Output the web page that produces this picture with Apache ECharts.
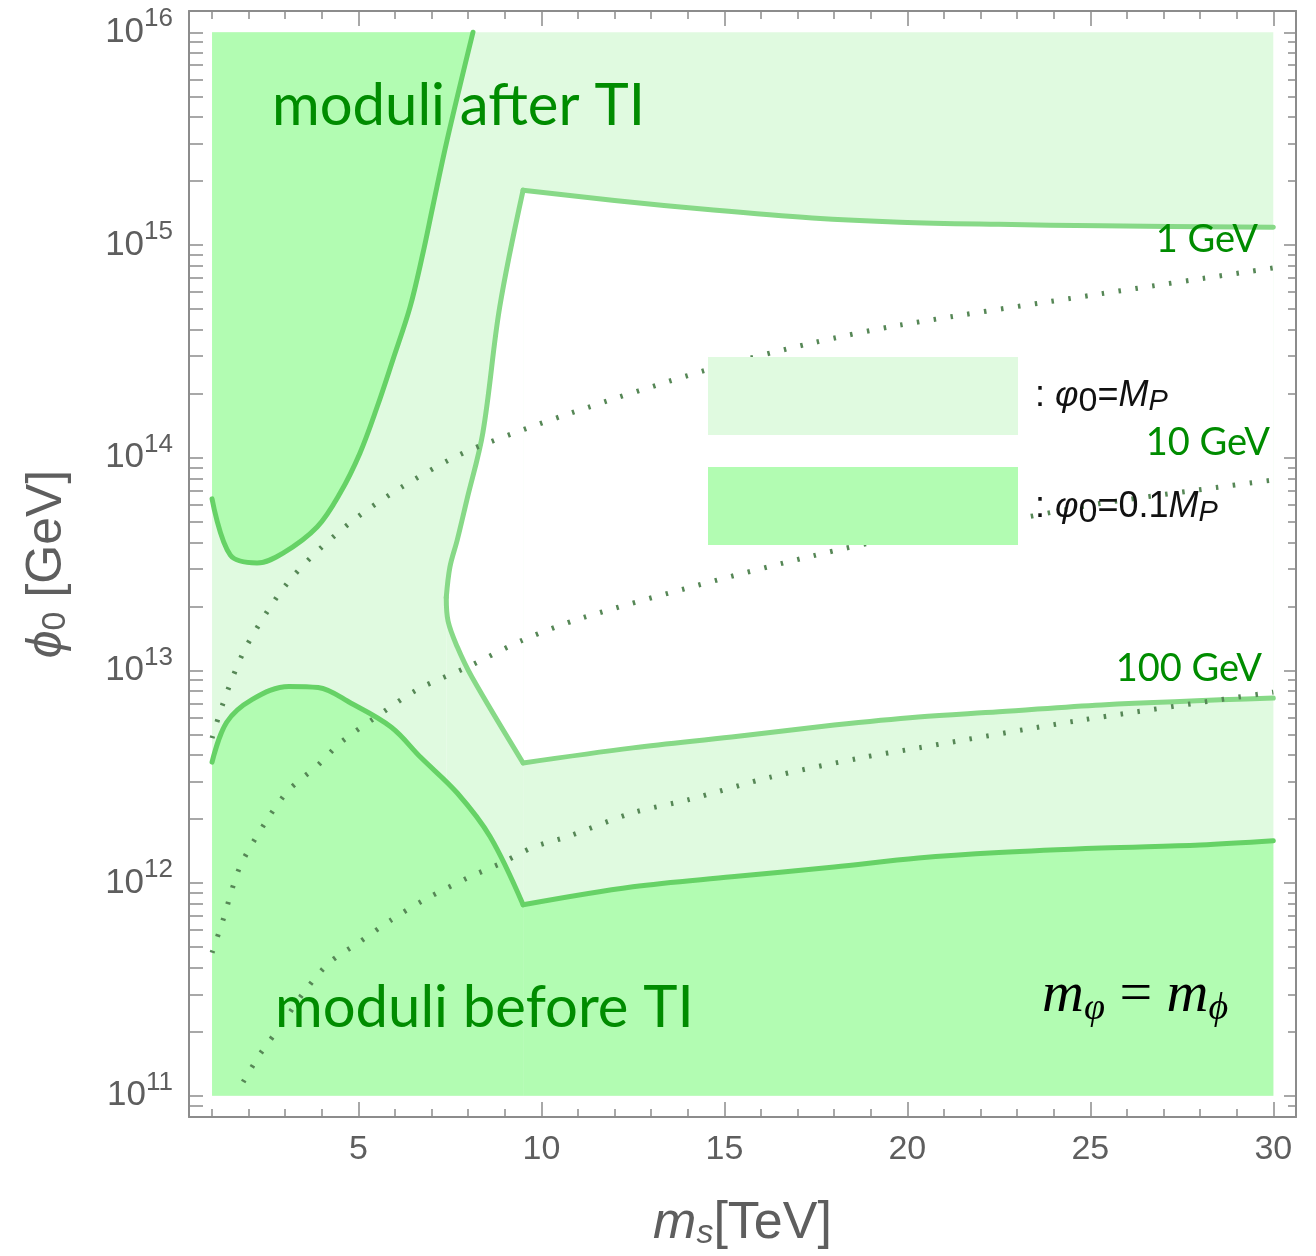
<!DOCTYPE html>
<html>
<head>
<meta charset="utf-8">
<title>moduli vs TI</title>
<script src="https://cdn.jsdelivr.net/npm/echarts@6/dist/echarts.min.js"></script>
<style>
  html, body { margin: 0; padding: 0; background: #fff; }
  #chart { width: 1316px; height: 1256px; }
</style>
</head>
<body>
<div id="chart"></div>
<script>
// axis extents (x in TeV, y as log10 of phi0 in GeV)
const xRange = [0.37, 30.62]
const logRange = [10.9, 16.1]
const xMajor = [5, 10, 15, 20, 25, 30]
const xMinor = [1, 2, 3, 4, 6, 7, 8, 9, 11, 12, 13, 14, 16, 17, 18, 19, 21, 22, 23, 24, 26, 27, 28, 29]
const yMajor = [11, 12, 13, 14, 15, 16]

// plotted box of the scan
const boxX = [1, 30]
const boxPhi = [1e11, 1e16]

// phi0 = 0.1 M_P : moduli after TI (upper left)
const afterX = [1.0, 1.5, 2.23, 2.94, 3.87, 4.5, 5.04, 5.51, 5.94, 6.41, 6.76, 7.03, 7.42, 8.13]
const afterPhi = [6.4e13, 3.48e13, 3.2e13, 3.56e13, 4.72e13, 6.82e13, 1.05e14, 1.73e14, 2.88e14, 5.1e14, 9.1e14, 1.51e15, 3.1e15, 1e16]

// phi0 = 0.1 M_P : moduli before TI (bottom), split at the kink
const beforeLeftX = [1.0, 1.4, 2.1, 3.1, 3.9, 4.8, 5.9, 6.7, 7.7, 8.6, 9.5]
const beforeLeftPhi = [3.7e12, 5.7e12, 7.3e12, 8.4e12, 8.3e12, 7.0e12, 5.4e12, 3.9e12, 2.65e12, 1.65e12, 7.9e11]
const beforeRightX = [9.5, 12.5, 15.2, 18.0, 20.3, 22.5, 25.3, 28.0, 30.0]
const beforeRightPhi = [7.9e11, 9.6e11, 1.07e12, 1.19e12, 1.31e12, 1.39e12, 1.46e12, 1.51e12, 1.58e12]

// phi0 = M_P : edge of the white window, in four pieces
const mpTopX = [9.5, 12.0, 14.7, 17.4, 19.8, 22.5, 25.3, 30]
const mpTopPhi = [1.81e15, 1.62e15, 1.46e15, 1.34e15, 1.28e15, 1.25e15, 1.23e15, 1.21e15]
const mpEdgeUpX = [7.4, 7.5, 7.7, 7.96, 8.4, 8.86, 9.5]
const mpEdgeUpPhi = [2.2e13, 3.06e13, 4.1e13, 6.3e13, 1.31e14, 5.1e14, 1.81e15]
const mpEdgeLowX = [7.4, 7.45, 7.7, 8.1, 9.5]
const mpEdgeLowPhi = [2.2e13, 1.7e13, 1.29e13, 9.3e12, 3.67e12]
const mpBotX = [9.5, 12.5, 15.2, 18.0, 20.3, 22.5, 25.3, 30]
const mpBotPhi = [3.67e12, 4.32e12, 4.86e12, 5.53e12, 6.04e12, 6.38e12, 6.88e12, 7.41e12]

// dotted contours: 1 GeV, 10 GeV, 100 GeV
const t1X = [1.0, 1.3, 1.85, 2.6, 3.2, 4.0, 5.0, 6.2, 7.5, 8.4, 10.8, 14.5, 17.4, 19.8, 25.3, 30]
const t1Phi = [4.8e12, 7.0e12, 1.21e13, 2.0e13, 2.75e13, 3.8e13, 5.3e13, 7.3e13, 9.8e13, 1.15e14, 1.62e14, 2.58e14, 3.46e14, 4.2e14, 5.9e14, 7.8e14]
const t2X = [1.0, 1.3, 1.76, 2.5, 3.1, 3.9, 4.5, 5.4, 6.6, 8.0, 9.5, 11.1, 14.3, 17.4, 19.8, 23.1, 25.3, 30]
const t2Phi = [4.7e11, 6.7e11, 1.19e12, 1.98e12, 2.74e12, 3.59e12, 4.56e12, 5.9e12, 8.1e12, 1.04e13, 1.39e13, 1.76e13, 2.52e13, 3.45e13, 4.24e13, 5.2e13, 6.1e13, 7.85e13]
const t3X = [1.85, 2.3, 2.9, 3.5, 4.2, 5.0, 5.9, 6.8, 8.0, 8.9, 9.8, 10.7, 12.5, 14.0, 16.3, 18.7, 20.3, 24.8, 30]
const t3Phi = [1.16e11, 1.56e11, 2.16e11, 3.05e11, 4.22e11, 5.24e11, 6.71e11, 8.34e11, 1.06e12, 1.24e12, 1.48e12, 1.65e12, 2.14e12, 2.46e12, 3.16e12, 3.87e12, 4.32e12, 5.85e12, 7.9e12]

const LIGHT = '#e0fae0'
const DARK = '#b2fcb2'
const MP_LINE = '#87d987'
const DARK_LINE = '#66d266'
const DOT = '#568756'
const AX = '#8c8c8c'
const LABEL = '#5e5e5e'
const GREEN = '#008c00'
const SANS = 'Liberation Sans, DejaVu Sans, sans-serif'
const GILL = 'Lato, Open Sans, sans-serif'
const SERIF = 'Liberation Serif, DejaVu Serif, serif'

// log ticks k*10^n inside the y range
const yAllTicks = []
for (let n = 10; n <= 16; n++) {
  for (let k = 1; k <= 9; k++) {
    const v = n + Math.log10(k)
    if (v >= logRange[0] && v <= logRange[1]) yAllTicks.push(v)
  }
}
const yMinor = yAllTicks.filter(v => !yMajor.includes(v))

const toPts = (xs, phis) => xs.map((x, i) => [x, Math.log10(phis[i])])
const lo = Math.log10(boxPhi[0])
const hi = Math.log10(boxPhi[1])
const SMOOTH = 0.35

// filled region under/over a curve
function fillSeries (pts, color, origin, z, smooth) {
  return {
    type: 'line',
    z,
    silent: true,
    data: pts,
    showSymbol: false,
    symbol: 'none',
    smooth,
    lineStyle: { width: 0, opacity: 0 },
    areaStyle: { color, opacity: 1, origin }
  }
}

function lineSeries (pts, color, width, type, z, smooth, cap) {
  return {
    type: 'line',
    z,
    silent: true,
    data: pts,
    showSymbol: false,
    symbol: 'none',
    smooth,
    lineStyle: { color, width, type, cap: cap || 'round', join: 'round' }
  }
}

const lightBox = [[boxX[0], lo], [boxX[1], lo], [boxX[1], hi], [boxX[0], hi]]
const after = toPts(afterX, afterPhi)
const beforeL = toPts(beforeLeftX, beforeLeftPhi)
const beforeR = toPts(beforeRightX, beforeRightPhi)
const mpTop = toPts(mpTopX, mpTopPhi)
const mpUp = toPts(mpEdgeUpX, mpEdgeUpPhi)
const mpLow = toPts(mpEdgeLowX, mpEdgeLowPhi)
const mpBot = toPts(mpBotX, mpBotPhi)

const axisBase = { type: 'value', splitLine: { show: false }, axisLabel: { show: false } }
const xBase = { ...axisBase, min: xRange[0], max: xRange[1] }
const yBase = { ...axisBase, min: logRange[0], max: logRange[1] }
const frameLine = { show: true, onZero: false, lineStyle: { color: AX, width: 2 } }
const tickStyle = { color: AX, width: 1.5 }

const chart = echarts.init(document.getElementById('chart'))
chart.setOption({
  animation: false,
  backgroundColor: '#fff',
  grid: { left: 189, right: 20, top: 11, bottom: 139, containLabel: false, outerBoundsMode: 'none' },
  xAxis: [
    {
      ...xBase,
      position: 'bottom',
      axisLine: frameLine,
      axisTick: { show: true, inside: true, length: 15, customValues: xMajor, lineStyle: tickStyle },
      axisLabel: { show: true, customValues: xMajor, fontSize: 34, color: LABEL, fontFamily: SANS, margin: 16 },
      name: '{i|m}{s|s}{n|[TeV]}',
      nameLocation: 'middle',
      nameGap: 80,
      nameMoveOverlap: false,
      nameTextStyle: {
        color: LABEL,
        rich: {
          i: { fontSize: 52, fontStyle: 'italic', fontFamily: SANS, color: LABEL },
          s: { fontSize: 34, fontStyle: 'italic', fontFamily: SANS, color: LABEL, padding: [20, 0, 0, 0] },
          n: { fontSize: 52, fontFamily: SANS, color: LABEL }
        }
      }
    },
    {
      ...xBase,
      position: 'bottom',
      offset: 0,
      axisLine: { show: false, onZero: false },
      axisTick: { show: true, inside: true, length: 8, customValues: xMinor, lineStyle: tickStyle }
    },
    {
      ...xBase,
      position: 'top',
      offset: 0,
      axisLine: frameLine,
      axisTick: { show: true, inside: true, length: 15, customValues: xMajor, lineStyle: tickStyle }
    },
    {
      ...xBase,
      position: 'top',
      offset: 0,
      axisLine: { show: false, onZero: false },
      axisTick: { show: true, inside: true, length: 8, customValues: xMinor, lineStyle: tickStyle }
    }
  ],
  yAxis: [
    {
      ...yBase,
      position: 'left',
      axisLine: frameLine,
      axisTick: { show: true, inside: true, length: 14, customValues: yAllTicks, lineStyle: tickStyle },
      axisLabel: {
        show: true,
        customValues: yMajor,
        margin: 16,
        formatter: v => '{b|10}{s|' + Math.round(v) + '}',
        rich: {
          b: { fontSize: 35, fontFamily: SANS, color: LABEL },
          s: { fontSize: 26, fontFamily: SANS, color: LABEL, padding: [0, 0, 26, 0] }
        }
      },
      name: '{p|ϕ}{s|0}{n| [GeV]}',
      nameLocation: 'middle',
      nameRotate: 90,
      nameGap: 116,
      nameMoveOverlap: false,
      nameTextStyle: {
        color: LABEL,
        rich: {
          p: { fontSize: 50, fontStyle: 'italic', fontFamily: SANS, color: LABEL },
          s: { fontSize: 34, fontFamily: SANS, color: LABEL, padding: [18, 0, 0, 0] },
          n: { fontSize: 50, fontFamily: SANS, color: LABEL }
        }
      }
    },
    {
      ...yBase,
      position: 'right',
      offset: 0,
      axisLine: frameLine,
      axisTick: { show: true, inside: true, length: 12, customValues: yMajor, lineStyle: tickStyle }
    },
    {
      ...yBase,
      position: 'right',
      offset: 0,
      axisLine: { show: false, onZero: false },
      axisTick: { show: true, inside: true, length: 8, customValues: yMinor, lineStyle: tickStyle }
    }
  ],
  series: [
    // light box (phi0 = M_P excluded everywhere but the window)
    {
      type: 'custom',
      z: 1,
      silent: true,
      data: lightBox,
      renderItem: (params, api) => {
        if (params.dataIndex !== 0) return
        return { type: 'polygon', shape: { points: lightBox.map(p => api.coord(p)) }, style: { fill: LIGHT } }
      }
    },
    // white window
    fillSeries(mpUp, '#ffffff', lo, 2, SMOOTH),
    fillSeries(mpTop, '#ffffff', lo, 2, SMOOTH),
    fillSeries(mpLow, LIGHT, lo, 3, SMOOTH),
    fillSeries(mpBot, LIGHT, lo, 3, SMOOTH),
    // phi0 = 0.1 M_P regions
    fillSeries(after, DARK, hi, 4, SMOOTH),
    fillSeries(beforeL, DARK, lo, 4, SMOOTH),
    fillSeries(beforeR, DARK, lo, 4, SMOOTH),
    // boundaries
    lineSeries(mpTop, MP_LINE, 5, 'solid', 5, SMOOTH),
    lineSeries(mpUp, MP_LINE, 5, 'solid', 5, SMOOTH),
    lineSeries(mpLow, MP_LINE, 5, 'solid', 5, SMOOTH),
    lineSeries(mpBot, MP_LINE, 5, 'solid', 5, SMOOTH),
    lineSeries(after, DARK_LINE, 5, 'solid', 5, SMOOTH),
    lineSeries(beforeL, DARK_LINE, 5, 'solid', 5, SMOOTH),
    lineSeries(beforeR, DARK_LINE, 5, 'solid', 5, SMOOTH),
    // dotted contours
    lineSeries(toPts(t1X, t1Phi), DOT, 5, [2.5, 14.5], 6, 0.3, 'butt'),
    lineSeries(toPts(t2X, t2Phi), DOT, 5, [2.5, 14.5], 6, 0.3, 'butt'),
    lineSeries(toPts(t3X, t3Phi), DOT, 5, [2.5, 14.5], 6, 0.3, 'butt')
  ],
  graphic: [
    // legend swatches
    { type: 'rect', z: 100, shape: { x: 708, y: 357, width: 310, height: 78 }, style: { fill: LIGHT } },
    { type: 'rect', z: 100, shape: { x: 708, y: 467, width: 310, height: 78 }, style: { fill: DARK } },
    {
      type: 'text', z: 101, x: 1035, y: 396,
      style: {
        text: '{n|: }{i|φ}{sb|0}{n|=}{i|M}{sp|P}',
        verticalAlign: 'middle',
        rich: {
          n: { fontSize: 36, fontFamily: SANS, fill: '#111' },
          i: { fontSize: 36, fontFamily: SANS, fontStyle: 'italic', fill: '#111' },
          sb: { fontSize: 34, fontFamily: SANS, fill: '#111', padding: [12, 0, 0, 0] },
          sp: { fontSize: 29, fontFamily: SANS, fontStyle: 'italic', fill: '#111', padding: [12, 0, 0, 0] }
        }
      }
    },
    {
      type: 'text', z: 101, x: 1035, y: 507,
      style: {
        text: '{n|: }{i|φ}{sb|0}{n|=0.1}{i|M}{sp|P}',
        verticalAlign: 'middle',
        rich: {
          n: { fontSize: 36, fontFamily: SANS, fill: '#111' },
          i: { fontSize: 36, fontFamily: SANS, fontStyle: 'italic', fill: '#111' },
          sb: { fontSize: 34, fontFamily: SANS, fill: '#111', padding: [12, 0, 0, 0] },
          sp: { fontSize: 29, fontFamily: SANS, fontStyle: 'italic', fill: '#111', padding: [12, 0, 0, 0] }
        }
      }
    },
    // region labels
    { type: 'text', z: 101, x: 272, y: 106, style: { text: 'moduli after TI', fontSize: 58, fontFamily: GILL, fill: GREEN, verticalAlign: 'middle' } },
    { type: 'text', z: 101, x: 275, y: 1008, style: { text: 'moduli before TI', fontSize: 58, fontFamily: GILL, fill: GREEN, verticalAlign: 'middle' } },
    { type: 'text', z: 101, x: 1258, y: 240, style: { text: '1 GeV', fontSize: 38, fontFamily: GILL, fill: GREEN, align: 'right', verticalAlign: 'middle' } },
    { type: 'text', z: 101, x: 1270, y: 443, style: { text: '10 GeV', fontSize: 38, fontFamily: GILL, fill: GREEN, align: 'right', verticalAlign: 'middle' } },
    { type: 'text', z: 101, x: 1262, y: 669, style: { text: '100 GeV', fontSize: 38, fontFamily: GILL, fill: GREEN, align: 'right', verticalAlign: 'middle' } },
    {
      type: 'text', z: 101, x: 1042, y: 996,
      style: {
        text: '{m|m}{s|φ}{e| = }{m|m}{s|ϕ}',
        verticalAlign: 'middle',
        rich: {
          m: { fontSize: 58, fontFamily: SERIF, fontStyle: 'italic', fill: '#000' },
          s: { fontSize: 38, fontFamily: SERIF, fontStyle: 'italic', fill: '#000', padding: [26, 0, 0, 0] },
          e: { fontSize: 58, fontFamily: SERIF, fill: '#000' }
        }
      }
    }
  ]
})
</script>
</body>
</html>
